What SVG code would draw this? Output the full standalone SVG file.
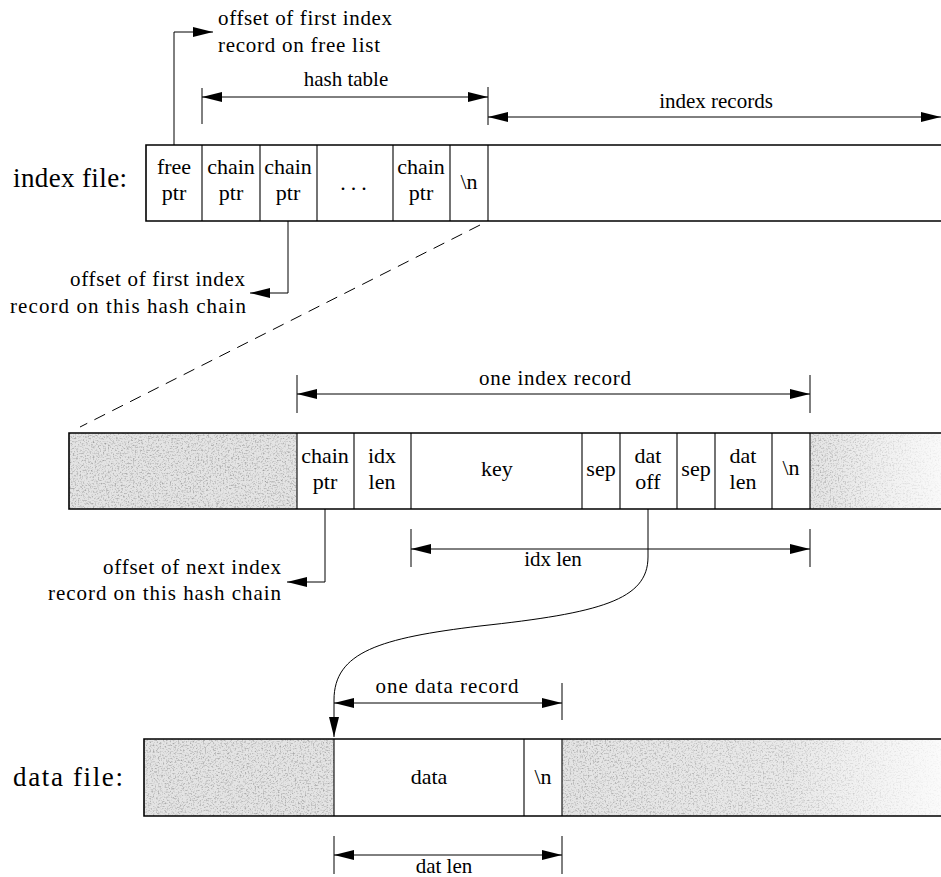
<svg xmlns="http://www.w3.org/2000/svg" width="941" height="877" viewBox="0 0 941 877" font-family="'Liberation Serif','Times New Roman',serif">
<style>
text{font-family:"Liberation Serif","Times New Roman",serif;font-size:22px;fill:#000}
.lbl{font-size:27px}
.ann{font-size:21px}
.mid{text-anchor:middle}
.end{text-anchor:end}
.bar{fill:none;stroke:#000;stroke-width:1.6}
.div{stroke:#000;stroke-width:1.1;fill:none}
.cell{fill:#fff;stroke:none}
.dim{stroke:#000;stroke-width:1;fill:none}
.ext{stroke:#000;stroke-width:1;fill:none}
.shade{fill:#e4e4e4}
.grain{fill:#000;filter:url(#grain)}
</style>
<defs>
<marker id="ah" markerUnits="userSpaceOnUse" markerWidth="20" markerHeight="10" refX="20" refY="5" orient="auto-start-reverse">
<path d="M0,0 L20,5 L0,10 z" fill="#000"/>
</marker>
<filter id="grain" x="0" y="0" width="1" height="1" filterUnits="objectBoundingBox">
<feTurbulence type="fractalNoise" baseFrequency="0.6" numOctaves="3" seed="11" result="n"/>
<feColorMatrix in="n" type="matrix" values="0 0 0 0 0.35  0 0 0 0 0.35  0 0 0 0 0.35  2.4 0 0 0 -1.15" result="d"/>
<feComposite in="d" in2="SourceGraphic" operator="in"/>
</filter>
<linearGradient id="fadeA" x1="0" y1="0" x2="1" y2="0">
<stop offset="0" stop-color="#fff" stop-opacity="0"/>
<stop offset="0.6" stop-color="#fff" stop-opacity="0.2"/>
<stop offset="1" stop-color="#fff" stop-opacity="0.85"/>
</linearGradient>
<linearGradient id="fadeB" x1="0" y1="0" x2="1" y2="0">
<stop offset="0" stop-color="#fff" stop-opacity="0"/>
<stop offset="1" stop-color="#fff" stop-opacity="0.8"/>
</linearGradient>
</defs>
<rect width="941" height="877" fill="#fff"/>

<g id="free-note">
<text class="ann" x="218" y="25" textLength="174">offset of first index</text>
<text class="ann" x="218" y="52" textLength="162">record on free list</text>
</g>
<g id="hash-table-label"><text class="ann mid" x="346" y="86">hash table</text></g>
<g id="index-records-label"><text class="ann mid" x="716" y="108">index records</text></g>

<g id="index-file">
<text class="lbl" x="13" y="187" textLength="114">index file:</text>
<rect class="cell" x="146" y="145" width="795" height="76"/>
<path class="bar" d="M941,145 H146 V221 H941"/>
<g id="idx-free"><line class="div" x1="202" y1="145" x2="202" y2="221"/><text class="mid" x="174" y="174">free</text><text class="mid" x="174" y="200">ptr</text></g>
<g id="idx-chain1"><line class="div" x1="260" y1="145" x2="260" y2="221"/><text class="mid" x="231" y="174">chain</text><text class="mid" x="231" y="200">ptr</text></g>
<g id="idx-chain2"><line class="div" x1="317" y1="145" x2="317" y2="221"/><text class="mid" x="288" y="174">chain</text><text class="mid" x="288" y="200">ptr</text></g>
<g id="idx-dots"><line class="div" x1="393" y1="145" x2="393" y2="221"/><text class="mid" x="356" y="190" letter-spacing="5">...</text></g>
<g id="idx-chainN"><line class="div" x1="450" y1="145" x2="450" y2="221"/><text class="mid" x="421" y="174">chain</text><text class="mid" x="421" y="200">ptr</text></g>
<g id="idx-nl"><line class="div" x1="488" y1="145" x2="488" y2="221"/><text class="mid" x="469" y="189">\n</text></g>
</g>

<g id="chain-note">
<text class="ann end" x="245" y="286" textLength="175">offset of first index</text>
<text class="ann end" x="246" y="313" textLength="236">record on this hash chain</text>
</g>

<g id="one-index-label"><text class="ann mid" x="555" y="385" textLength="152">one index record</text></g>
<g id="index-record">
<rect class="cell" x="69" y="433" width="872" height="76"/>
<rect class="shade" x="69" y="433" width="228" height="76"/>
<rect class="grain" x="69" y="433" width="228" height="76"/>
<rect class="shade" x="810" y="433" width="131" height="76"/>
<rect class="grain" x="810" y="433" width="131" height="76"/>
<rect x="810" y="433" width="131" height="76" fill="url(#fadeB)"/>
<path class="bar" d="M941,433 H69 V509 H941"/>
<line class="div" x1="297" y1="433" x2="297" y2="509"/>
<g id="rec-chain"><line class="div" x1="354" y1="433" x2="354" y2="509"/><text class="mid" x="325" y="463">chain</text><text class="mid" x="325" y="489">ptr</text></g>
<g id="rec-idxlen"><line class="div" x1="411" y1="433" x2="411" y2="509"/><text class="mid" x="382" y="463">idx</text><text class="mid" x="382" y="489">len</text></g>
<g id="rec-key"><line class="div" x1="582" y1="433" x2="582" y2="509"/><text class="mid" x="497" y="476">key</text></g>
<g id="rec-sep1"><line class="div" x1="620" y1="433" x2="620" y2="509"/><text class="mid" x="601" y="476">sep</text></g>
<g id="rec-datoff"><line class="div" x1="677" y1="433" x2="677" y2="509"/><text class="mid" x="648" y="463">dat</text><text class="mid" x="648" y="489">off</text></g>
<g id="rec-sep2"><line class="div" x1="715" y1="433" x2="715" y2="509"/><text class="mid" x="696" y="476">sep</text></g>
<g id="rec-datlen"><line class="div" x1="772" y1="433" x2="772" y2="509"/><text class="mid" x="743" y="463">dat</text><text class="mid" x="743" y="489">len</text></g>
<g id="rec-nl"><line class="div" x1="810" y1="433" x2="810" y2="509"/><text class="mid" x="791" y="475">\n</text></g>
</g>
<g id="idx-len-label"><text class="ann mid" x="553" y="566">idx len</text></g>
<g id="next-note">
<text class="ann end" x="281" y="574" textLength="178">offset of next index</text>
<text class="ann end" x="281" y="600" textLength="233">record on this hash chain</text>
</g>

<g id="one-data-label"><text class="ann mid" x="447" y="693" textLength="143">one data record</text></g>
<g id="data-file">
<text class="lbl" x="13" y="786" textLength="110">data file:</text>
<rect class="cell" x="144" y="739" width="797" height="77"/>
<rect class="shade" x="144" y="739" width="190" height="77"/>
<rect class="grain" x="144" y="739" width="190" height="77"/>
<rect class="shade" x="562" y="739" width="379" height="77"/>
<rect class="grain" x="562" y="739" width="379" height="77"/>
<rect x="562" y="739" width="379" height="77" fill="url(#fadeA)"/>
<path class="bar" d="M941,739 H144 V816 H941"/>
<line class="div" x1="334" y1="739" x2="334" y2="816"/>
<g id="dat-data"><line class="div" x1="524" y1="739" x2="524" y2="816"/><text class="mid" x="429" y="784">data</text></g>
<g id="dat-nl"><line class="div" x1="562" y1="739" x2="562" y2="816"/><text class="mid" x="543" y="784">\n</text></g>
</g>
<g id="dat-len-label"><text class="ann mid" x="444" y="873">dat len</text></g>

<g id="connectors">
<polyline class="dim" points="174,145 174,32 213,32" marker-end="url(#ah)"/>
<line class="ext" x1="202" y1="88" x2="202" y2="124"/>
<line class="ext" x1="488" y1="87" x2="488" y2="125"/>
<line class="dim" x1="202" y1="97" x2="488" y2="97" marker-start="url(#ah)" marker-end="url(#ah)"/>
<line class="dim" x1="488" y1="117" x2="941" y2="117" marker-start="url(#ah)" marker-end="url(#ah)"/>
<polyline class="dim" points="288,221 288,293 250,293" marker-end="url(#ah)"/>
<line class="dim" x1="480" y1="225" x2="80" y2="427" stroke-dasharray="12,8"/>
<line class="ext" x1="297" y1="375" x2="297" y2="413"/>
<line class="ext" x1="810" y1="375" x2="810" y2="413"/>
<line class="dim" x1="297" y1="394" x2="810" y2="394" marker-start="url(#ah)" marker-end="url(#ah)"/>
<line class="ext" x1="411" y1="529" x2="411" y2="567"/>
<line class="ext" x1="810" y1="529" x2="810" y2="567"/>
<line class="dim" x1="411" y1="549" x2="810" y2="549" marker-start="url(#ah)" marker-end="url(#ah)"/>
<polyline class="dim" points="325,509 325,582 287,582" marker-end="url(#ah)"/>
<path class="dim" d="M648,509 V557 C648,600 600,613 480,626 C380,638 334,652 334,700 V737" marker-end="url(#ah)"/>
<line class="ext" x1="562" y1="683" x2="562" y2="720"/>
<line class="dim" x1="334" y1="703" x2="562" y2="703" marker-start="url(#ah)" marker-end="url(#ah)"/>
<line class="ext" x1="334" y1="836" x2="334" y2="874"/>
<line class="ext" x1="562" y1="836" x2="562" y2="874"/>
<line class="dim" x1="334" y1="855" x2="562" y2="855" marker-start="url(#ah)" marker-end="url(#ah)"/>
</g>
</svg>
